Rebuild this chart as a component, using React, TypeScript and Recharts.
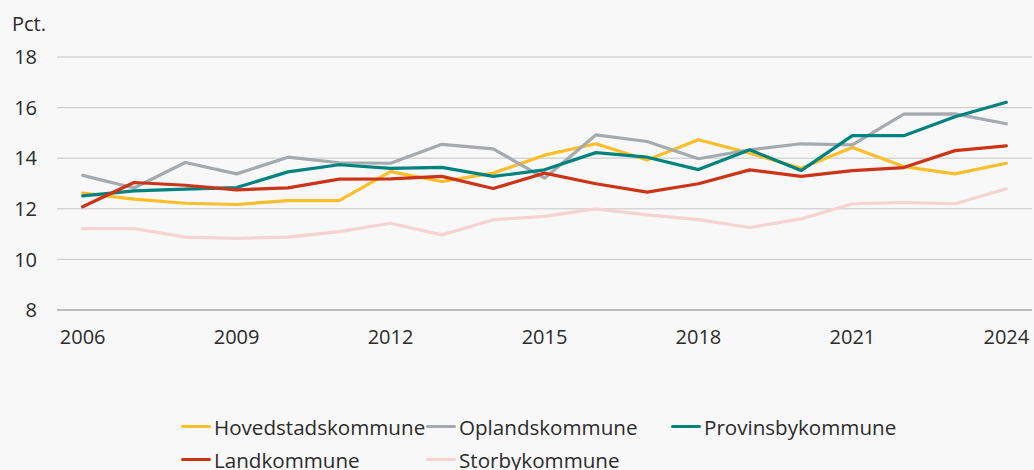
import React from "react";
import { LineChart, Line, XAxis, YAxis, CartesianGrid } from "recharts";

const years = [2006, 2007, 2008, 2009, 2010, 2011, 2012, 2013, 2014, 2015, 2016, 2017, 2018, 2019, 2020, 2021, 2022, 2023, 2024];
const hovedstad = [12.62, 12.38, 12.22, 12.17, 12.32, 12.32, 13.47, 13.08, 13.41, 14.12, 14.57, 13.93, 14.73, 14.2, 13.6, 14.42, 13.67, 13.38, 13.8];
const oplands = [13.32, 12.82, 13.83, 13.38, 14.04, 13.82, 13.8, 14.55, 14.37, 13.21, 14.92, 14.66, 13.98, 14.33, 14.57, 14.53, 15.74, 15.75, 15.36];
const provinsby = [12.51, 12.71, 12.78, 12.84, 13.46, 13.74, 13.6, 13.64, 13.28, 13.54, 14.22, 14.04, 13.55, 14.33, 13.51, 14.89, 14.89, 15.64, 16.21];
const land = [12.08, 13.04, 12.93, 12.75, 12.83, 13.17, 13.18, 13.28, 12.8, 13.41, 12.99, 12.66, 12.99, 13.54, 13.28, 13.51, 13.63, 14.3, 14.49];
const storby = [11.22, 11.22, 10.88, 10.83, 10.88, 11.1, 11.43, 10.97, 11.57, 11.7, 12.0, 11.76, 11.57, 11.26, 11.6, 12.2, 12.25, 12.2, 12.79];

const yTicks = [8, 10, 12, 14, 16, 18];
const xLabelTicks = [2006, 2009, 2012, 2015, 2018, 2021, 2024];
const xBoundaryTicks = [2005.5, 2006.5, 2007.5, 2008.5, 2009.5, 2010.5, 2011.5, 2012.5, 2013.5, 2014.5, 2015.5, 2016.5, 2017.5, 2018.5, 2019.5, 2020.5, 2021.5, 2022.5, 2023.5, 2024.5];

const series = [
  { key: "Hovedstadskommune", values: hovedstad, color: "#FDBE2C" },
  { key: "Oplandskommune", values: oplands, color: "#A5AAAF" },
  { key: "Provinsbykommune", values: provinsby, color: "#00837F" },
  { key: "Landkommune", values: land, color: "#CC3418" },
  { key: "Storbykommune", values: storby, color: "#F7D2D3" },
];

const data = years.map((year, i) => {
  const row: Record<string, number> = { year };
  series.forEach((s) => {
    row[s.key] = s.values[i];
  });
  return row;
});

const FONT = "'Open Sans', sans-serif";
const TEXT = "#2b2b2b";

export default function App() {
  return (
    <div
      style={{
        position: "absolute",
        left: 0,
        top: 0,
        width: 1034,
        height: 470,
        background: "#f8f8f8",
        fontFamily: FONT,
        overflow: "hidden",
      }}
    >
      <div
        style={{
          position: "absolute",
          left: 12,
          top: 14,
          fontSize: 20,
          lineHeight: "20px",
          color: TEXT,
        }}
      >
        Pct.
      </div>
      <LineChart
        width={1034}
        height={470}
        data={data}
        margin={{ top: 57, right: 2, left: 0, bottom: 130 }}
      >
        <CartesianGrid vertical={false} stroke="#c6c6c6" strokeWidth={1} />
        <XAxis
          xAxisId="bounds"
          type="number"
          dataKey="year"
          domain={[2005.5, 2024.5]}
          allowDataOverflow
          ticks={xBoundaryTicks}
          interval={0}
          height={0}
          axisLine={false}
          tickLine={{ stroke: "#9a9a9a" }}
          tickSize={5}
          tickFormatter={() => ""}
        />
        <XAxis
          type="number"
          dataKey="year"
          domain={[2005.5, 2024.5]}
          allowDataOverflow
          ticks={xLabelTicks}
          interval={0}
          height={30}
          axisLine={{ stroke: "#9a9a9a" }}
          tickLine={false}
          tickSize={0}
          tickMargin={20}
          tick={{ fill: TEXT, fontSize: 20, fontFamily: FONT }}
        />
        <YAxis
          type="number"
          domain={[8, 18]}
          ticks={yTicks}
          interval={0}
          width={57}
          axisLine={false}
          tickLine={false}
          tickSize={0}
          tickMargin={20}
          tick={{ fill: TEXT, fontSize: 20, fontFamily: FONT }}
        />
        {series.map((s) => (
          <Line
            key={s.key}
            type="linear"
            dataKey={s.key}
            stroke={s.color}
            strokeWidth={3.2}
            strokeLinecap="round"
            strokeLinejoin="round"
            dot={false}
            activeDot={false}
            isAnimationActive={false}
          />
        ))}
      </LineChart>
      <div
        style={{
          position: "absolute",
          left: 181,
          top: 410,
          display: "grid",
          gridTemplateColumns: "245px 245px 245px",
          rowGap: 0,
        }}
      >
        {series.map((s) => (
          <div
            key={s.key}
            style={{
              display: "flex",
              alignItems: "center",
              height: 33,
              fontSize: 20.6,
              color: TEXT,
              whiteSpace: "nowrap",
            }}
          >
            <span
              style={{
                display: "inline-block",
                width: 30,
                height: 3.5,
                borderRadius: 2,
                background: s.color,
                marginRight: 3,
              }}
            />
            <span>{s.key}</span>
          </div>
        ))}
      </div>
    </div>
  );
}
